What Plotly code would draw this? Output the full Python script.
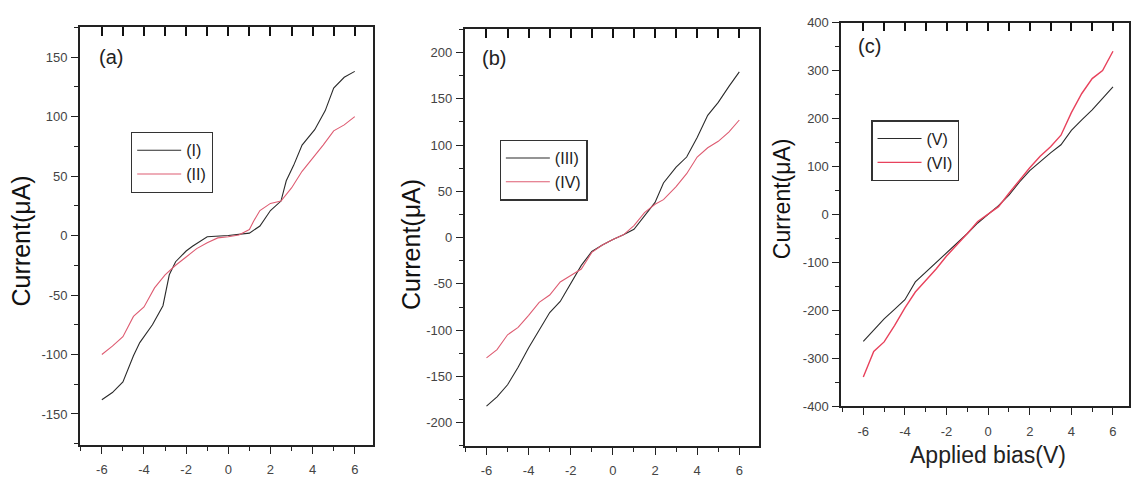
import plotly.graph_objects as go

# ---- data ----
xa = [-6, -5.5, -5, -4.5, -4.2, -3.6, -3.1, -2.8, -2.5, -2, -1.7, -1, 0, 1, 1.5, 2, 2.5, 2.75, 3.1, 3.5, 4.1, 4.6, 5, 5.5, 6]
Ia = [-138, -132, -123, -101, -90, -75, -59, -33, -22, -13, -9, -1, 0, 2, 8, 21, 29, 46, 59, 76, 89, 105, 124, 133, 138]
xa2 = [-6, -5.5, -5, -4.5, -4, -3.5, -3, -2.5, -2, -1.5, -1, -0.5, 0, 0.5, 1, 1.2, 1.5, 2, 2.5, 3, 3.5, 4, 4.5, 5, 5.5, 6]
IIa = [-100, -93, -85, -68, -60, -44, -33, -25, -18, -11, -6, -2, -1, 0.5, 5, 12, 21, 27, 29, 40, 54, 65, 76, 88, 93, 100]

xb = [-6, -5.5, -5, -4.5, -4, -3.5, -3, -2.5, -2, -1.5, -1, -0.5, 0, 0.5, 1, 1.5, 2, 2.4, 3, 3.5, 4, 4.5, 5, 5.5, 6]
IIIb = [-182, -172, -159, -140, -119, -100, -81, -69, -49, -30, -15, -8, -2, 3, 9, 24, 38, 59, 76, 87, 108, 132, 146, 163, 179]
IVb = [-130, -121, -105, -97, -84, -70, -62, -48, -41, -34, -16, -8, -2, 3, 13, 27, 36, 41, 55, 69, 87, 97, 104, 114, 127]

xc = [-6, -5.5, -5, -4.5, -4, -3.5, -3, -2.5, -2, -1.5, -1, -0.5, 0, 0.5, 1, 1.5, 2, 2.5, 3, 3.5, 4, 4.5, 5, 5.5, 6]
Vc = [-265, -242, -218, -198, -178, -141, -121, -101, -81, -60, -40, -18, 0, 18, 40, 67, 91, 110, 128, 145, 175, 197, 218, 242, 266]
VIc = [-339, -286, -266, -232, -195, -162, -138, -114, -87, -64, -40, -15, 0, 16, 44, 71, 97, 121, 141, 165, 212, 252, 283, 300, 340]

names = ["(I)", "(II)", "(III)", "(IV)", "(V)", "(VI)"]
panel_labels = ["(a)", "(b)", "(c)"]
yticks_a = [-150, -100, -50, 0, 50, 100, 150]
yticks_b = [-200, -150, -100, -50, 0, 50, 100, 150, 200]
yticks_c = [-400, -300, -200, -100, 0, 100, 200, 300, 400]
xticks = [-6, -4, -2, 0, 2, 4, 6]
xticks_all = [-6, -5, -4, -3, -2, -1, 0, 1, 2, 3, 4, 5, 6]

W, H = 1131, 481
def px(x): return x / W
def py(y): return 1 - y / H
def lab(v): return str(v).replace("\u2212", "-")

BLACK = "#2b2b2b"
RED_AB = "#de5c72"
RED_C = "#e8425c"

fig = go.Figure()
fig.add_trace(go.Scatter(x=xa, y=Ia, mode="lines", name=names[0], line=dict(color=BLACK, width=1.1), xaxis="x", yaxis="y", legend="legend"))
fig.add_trace(go.Scatter(x=xa2, y=IIa, mode="lines", name=names[1], line=dict(color=RED_AB, width=1.1), xaxis="x", yaxis="y", legend="legend"))
fig.add_trace(go.Scatter(x=xb, y=IIIb, mode="lines", name=names[2], line=dict(color=BLACK, width=1.1), xaxis="x2", yaxis="y2", legend="legend2"))
fig.add_trace(go.Scatter(x=xb, y=IVb, mode="lines", name=names[3], line=dict(color=RED_AB, width=1.1), xaxis="x2", yaxis="y2", legend="legend2"))
fig.add_trace(go.Scatter(x=xc, y=Vc, mode="lines", name=names[4], line=dict(color=BLACK, width=1.1), xaxis="x3", yaxis="y3", legend="legend3"))
fig.add_trace(go.Scatter(x=xc, y=VIc, mode="lines", name=names[5], line=dict(color=RED_C, width=1.4), xaxis="x3", yaxis="y3", legend="legend3"))

# anchors for the top (inward-tick) axes
for i in range(3):
    n = "" if i == 0 else str(i + 1)
    fig.add_trace(go.Scatter(x=[0], y=[0], mode="markers", marker=dict(opacity=0, size=1),
                             xaxis="x" + str(i + 4), yaxis="y" + n, showlegend=False, hoverinfo="skip"))

FONT = "Arial, Liberation Sans, sans-serif"
tickfont = dict(family=FONT, size=13, color="#444")

panels = [
    dict(xd=(80, 373), yd=(21, 452), xr=[-7.04, 6.85], yr=[-176, 175], yt=yticks_a, ym=25),
    dict(xd=(465, 760), yd=(23, 453), xr=[-7.04, 6.95], yr=[-225, 225], yt=yticks_b, ym=25),
    dict(xd=(842, 1130), yd=(16, 412), xr=[-7.06, 6.77], yr=[-400, 400], yt=yticks_c, ym=50),
]

layout = dict(width=W, height=H, margin=dict(l=0, r=0, t=0, b=0),
              paper_bgcolor="white", plot_bgcolor="rgba(0,0,0,0)", showlegend=True)

for i, p in enumerate(panels):
    n = "" if i == 0 else str(i + 1)
    xdom = [px(p["xd"][0]), px(p["xd"][1])]
    ydom = [py(p["yd"][1]), py(p["yd"][0])]
    layout["xaxis" + n] = dict(domain=xdom, range=p["xr"], anchor="y" + n,
                               tickvals=xticks, ticktext=[lab(v) for v in xticks],
                               ticks="outside", ticklen=7, tickwidth=1.3, tickcolor="#222",
                               minor=dict(dtick=1, tick0=0, ticks="outside", ticklen=4, tickwidth=1.1, tickcolor="#222", showgrid=False),
                               showline=True, linecolor="#222", linewidth=1.6, mirror=True,
                               showgrid=False, zeroline=False, tickfont=tickfont, ticklabelstandoff=5)
    layout["yaxis" + n] = dict(domain=ydom, range=p["yr"], anchor="x" + n,
                               tickvals=p["yt"], ticktext=[lab(v) for v in p["yt"]],
                               ticks="outside", ticklen=7, tickwidth=1.3, tickcolor="#222",
                               minor=dict(dtick=p["ym"], tick0=0, ticks="outside", ticklen=4, tickwidth=1.1, tickcolor="#222", showgrid=False),
                               showline=True, linecolor="#222", linewidth=1.6, mirror=True,
                               showgrid=False, zeroline=False, tickfont=tickfont, ticklabelstandoff=1)
    k = str(i + 4)
    layout["xaxis" + k] = dict(range=p["xr"], anchor="y" + n, side="top", overlaying="x" + n,
                               tickmode="array", tickvals=xticks_all, ticktext=[lab(v) for v in xticks_all],
                               ticks="inside", ticklen=9, tickwidth=1.6, tickcolor="#111",
                               showticklabels=True, tickfont=dict(size=8, color="rgba(255,255,255,0)"),
                               showgrid=False, zeroline=False, showline=True, linecolor="#222", linewidth=1.6)

legfont = dict(family=FONT, size=16, color="#222")
layout["legend"] = dict(x=px(131), y=py(129), xanchor="left", yanchor="top", bordercolor="#333", borderwidth=1.3,
                        bgcolor="white", font=legfont, itemwidth=44)
layout["legend2"] = dict(x=px(500), y=py(137), xanchor="left", yanchor="top", bordercolor="#333", borderwidth=1.3,
                         bgcolor="white", font=legfont, itemwidth=44)
layout["legend3"] = dict(x=px(872), y=py(117), xanchor="left", yanchor="top", bordercolor="#333", borderwidth=1.3,
                         bgcolor="white", font=legfont, itemwidth=44)

annotations = []
for xpos, ypos, fs in [(22, 241, 25), (412, 245, 25), (783, 198, 23)]:
    annotations.append(dict(text="Current(μA)", x=px(xpos), y=py(ypos), xref="paper", yref="paper",
                            textangle=-90, showarrow=False, font=dict(family=FONT, size=fs, color="#111"),
                            xanchor="center", yanchor="middle"))
for lbl, xpos, ypos in [(panel_labels[0], 97, 52), (panel_labels[1], 480, 53), (panel_labels[2], 857, 40)]:
    annotations.append(dict(text=lbl, x=px(xpos), y=py(ypos), xref="paper", yref="paper", showarrow=False,
                            font=dict(family=FONT, size=20, color="#222"),
                            xanchor="left", yanchor="middle"))
annotations.append(dict(text="Applied bias(V)", x=px(989), y=py(462), xref="paper", yref="paper", showarrow=False,
                        font=dict(family=FONT, size=23, color="#222"),
                        xanchor="center", yanchor="middle"))
layout["annotations"] = annotations

fig.update_layout(**layout)
fig.write_html("out.html", config={"displayModeBar": False},
               post_script="document.body.style.margin='0';document.body.style.overflow='hidden';")
